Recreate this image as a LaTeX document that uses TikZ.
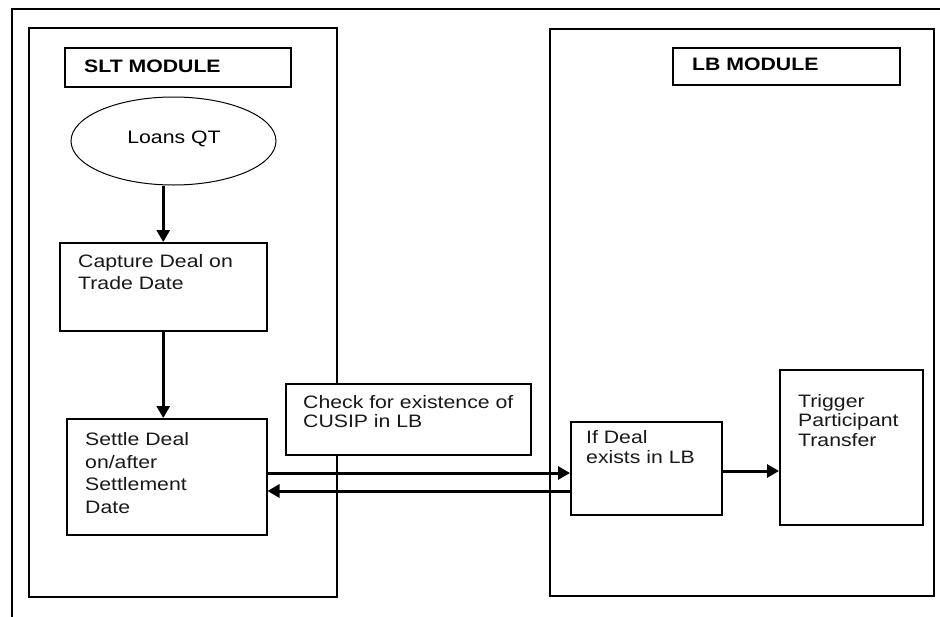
\documentclass[tikz,border=0pt]{standalone}
\usepackage{fontspec}
\newfontfamily\wide[FakeStretch=1.18]{Liberation Sans}
\usetikzlibrary{arrows.meta,shapes.geometric}
\begin{document}
\begin{tikzpicture}[x=1pt,y=-1pt,
  box/.style={draw,line width=1.5pt,fill=white,inner sep=0pt,anchor=north west},
  txt/.style={inner sep=0pt,anchor=north west,align=left,text=black!90},
  hdr/.style={inner sep=0pt,anchor=north west,font=\wide\bfseries\fontsize{18}{21}\selectfont},
  arr/.style={line width=3pt,-{Triangle[length=12pt,width=13pt]}}]
\useasboundingbox (0,0) rectangle (940,616);
\clip (0,0) rectangle (940,616);
\fill[white] (0,0) rectangle (940,616);
% outer frame
\draw[line width=1.6pt] (12,9) rectangle (960,640);
% SLT module
\node[box, minimum width=308pt, minimum height=569pt] (slt) at (28,27) {};
\node[box, minimum width=226pt, minimum height=39pt] (sltlbl) at (64,47) {};
\node[hdr] (sltt) at (84,60) {SLT MODULE};
\node[draw, ellipse, line width=1pt, minimum width=205pt, minimum height=88pt, inner sep=0pt] (loans) at (173.5,141) {};
\node[inner sep=0pt, font=\wide\fontsize{18}{21}\selectfont] (loanst) at (174,139) {Loans QT};
\node[box, minimum width=207pt, minimum height=88pt] (capture) at (59,242) {};
\node[txt, font=\wide\fontsize{18}{21.7}\selectfont] (capturet) at (78,254.5) {Capture Deal on\\Trade Date};
\node[box, minimum width=200pt, minimum height=116pt] (settle) at (66,418) {};
\node[txt, font=\wide\fontsize{18}{22.5}\selectfont] (settlet) at (85,432.5) {Settle Deal\\on/after\\Settlement\\Date};
% check box
\node[box, minimum width=245pt, minimum height=71pt] (check) at (285,383) {};
\node[txt, font=\wide\fontsize{18}{19}\selectfont] (checkt) at (303,395) {Check for existence of\\CUSIP in LB};
% LB module
\node[box, minimum width=384pt, minimum height=567pt] (lb) at (549,28) {};
\node[box, minimum width=227pt, minimum height=37pt] (lblbl) at (672,47) {};
\node[hdr] (lbt) at (692,57.5) {LB MODULE};
\node[box, minimum width=151pt, minimum height=93pt] (ifdeal) at (570,421) {};
\node[txt, font=\wide\fontsize{18}{20}\selectfont] (ifdealt) at (586,430.7) {If Deal\\exists in LB};
\node[box, minimum width=143pt, minimum height=155pt] (trigger) at (779,369) {};
\node[txt, font=\wide\fontsize{18}{19.5}\selectfont] (triggert) at (798,394) {Trigger\\Participant\\Transfer};
% connectors
\coordinate (fwd) at (0,473);
\coordinate (back) at (0,491);
\coordinate (side) at (0,471);
\draw[arr] (loans.south -| capture.north) -- (capture.north);
\draw[arr] (capture.south) -- (capture.south |- settle.north);
\draw[arr] (settle.east |- fwd) -- (ifdeal.west |- fwd);
\draw[arr] (ifdeal.west |- back) -- (settle.east |- back);
\draw[arr] (ifdeal.east |- side) -- (trigger.west |- side);
\end{tikzpicture}
\end{document}
